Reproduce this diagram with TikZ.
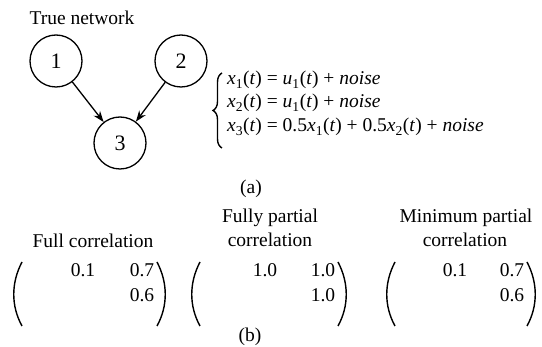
\documentclass[tikz,border=0pt]{standalone}
\usepackage{fontspec}
\setmainfont{Liberation Serif}
\usetikzlibrary{arrows.meta,decorations.pathreplacing}

\newcommand{\vsub}[2]{\textit{#1}\textsubscript{#2}(\textit{t})}

\tikzset{
  txt/.style={inner sep=0pt,font=\fontsize{19.5}{23}\selectfont},
  state/.style={circle,draw,line width=1.3pt,minimum size=52pt,inner sep=0pt,
    font=\fontsize{22}{26}\selectfont},
  edge/.style={line width=1.3pt,-{Stealth[length=11pt,width=8pt]}},
  paren/.style={line width=1.4pt}
}

\begin{document}
\begin{tikzpicture}[x=1pt,y=-1pt]
\useasboundingbox (0,0) rectangle (542,347);

% (a) true network
\node[txt,anchor=base] (title) at (82,25) {True network};
\node[state] (n1) at (56,61) {1};
\node[state] (n2) at (181,61) {2};
\node[state] (n3) at (120,143) {3};
\draw[edge] (n1) -- (n3);
\draw[edge] (n2) -- (n3);

\node[txt,anchor=base west] (eq1) at (227,85) {\vsub{x}{1} = \vsub{u}{1} + \textit{noise}};
\node[txt,anchor=base west] (eq2) at (227,108) {\vsub{x}{2} = \vsub{u}{1} + \textit{noise}};
\node[txt,anchor=base west] (eq3) at (227,132) {\vsub{x}{3} = 0.5\vsub{x}{1} + 0.5\vsub{x}{2} + \textit{noise}};
\draw[line width=1.4pt,decorate,decoration={brace,amplitude=9pt}] (222,148) -- (222,73);

\node[txt,anchor=base] (capa) at (251,194) {(a)};

% (b) correlation matrices
\node[txt,anchor=base] (full) at (93,248) {Full correlation};
\node[txt,anchor=base] (fpc1) at (270,223) {Fully partial};
\node[txt,anchor=base] (fpc2) at (270,247) {correlation};
\node[txt,anchor=base] (mpc1) at (466,223) {Minimum partial};
\node[txt,anchor=base] (mpc2) at (465,247) {correlation};

\foreach \l/\r in {12/167,190/348,385/537}
{
  \draw[paren] (\l+10,262) .. controls (\l-1,283) and (\l-1,306) .. (\l+10,326);
  \draw[paren] (\r-10,262) .. controls (\r+1,283) and (\r+1,306) .. (\r-10,326);
}

\foreach \m/\ca/\cb/\va/\vb/\vc in {a/83/142/0.1/0.7/0.6,b/265/323/1.0/1.0/1.0,c/455/512/0.1/0.7/0.6}
{
  \node[txt,anchor=base] (\m12) at (\ca,277) {\va};
  \node[txt,anchor=base] (\m13) at (\cb,277) {\vb};
  \node[txt,anchor=base] (\m23) at (\cb,302) {\vc};
}

\node[txt,anchor=base] (capb) at (250,342) {(b)};
\end{tikzpicture}
\end{document}
